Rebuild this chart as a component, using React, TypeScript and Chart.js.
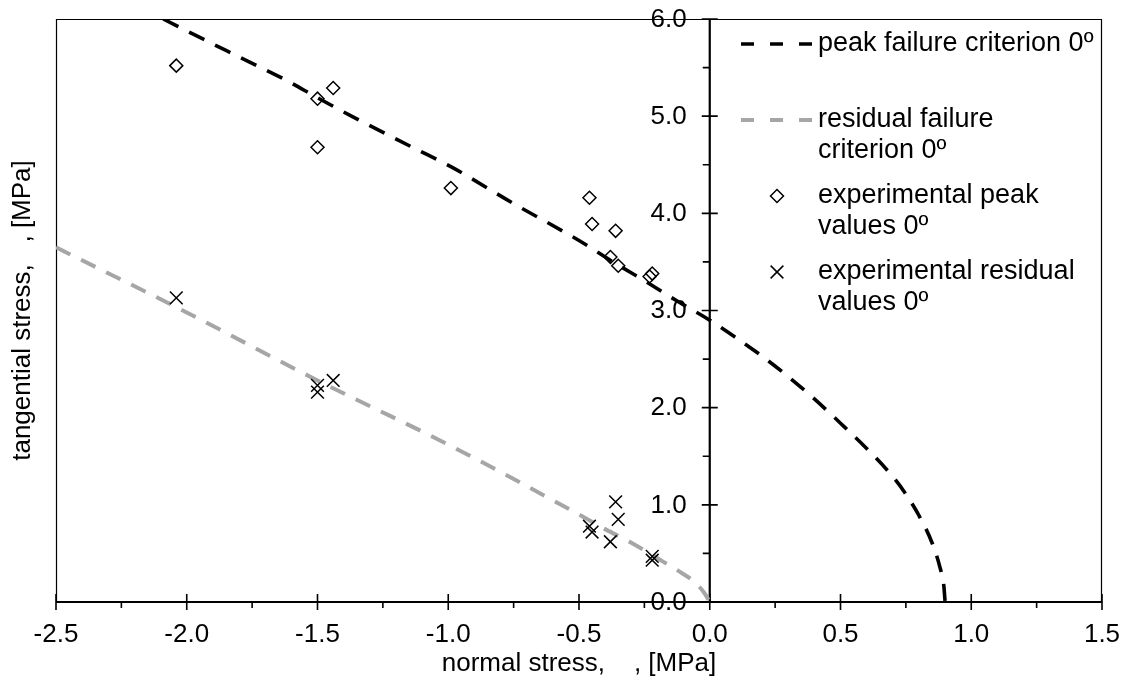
import React, { useEffect, useRef } from 'react';
import { Chart, registerables } from 'chart.js';

Chart.register(...registerables);

const FONT = '"Liberation Sans", Arial, Helvetica, sans-serif';

// peak failure criterion 0º
const peakSigma = [-2.09, -1.95, -1.8, -1.62, -1.5, -1.37, -1.13, -0.99, -0.75, -0.5, -0.37, -0.24, -0.12, 0.0, 0.1, 0.2, 0.3, 0.4, 0.5, 0.6, 0.7, 0.75, 0.8, 0.85, 0.88, 0.895, 0.9];
const peakTau = [6.0, 5.81, 5.61, 5.37, 5.19, 5.0, 4.67, 4.48, 4.1, 3.72, 3.5, 3.29, 3.09, 2.9, 2.72, 2.53, 2.32, 2.09, 1.84, 1.58, 1.29, 1.11, 0.89, 0.61, 0.36, 0.17, 0.0];

// residual failure criterion 0º
const resSigma = [-2.5, -2.0, -1.5, -1.0, -0.5, -0.4, -0.3, -0.2, -0.12, -0.06, -0.02, 0.0];
const resTau = [3.65, 2.98, 2.28, 1.62, 0.9, 0.75, 0.61, 0.45, 0.32, 0.21, 0.09, 0.0];

// experimental peak values 0º
const expPeakSigma = [-2.04, -1.5, -1.44, -1.5, -0.99, -0.46, -0.45, -0.36, -0.38, -0.35, -0.22, -0.23];
const expPeakTau = [5.52, 5.18, 5.29, 4.68, 4.26, 4.16, 3.89, 3.82, 3.55, 3.46, 3.38, 3.35];

// experimental residual values 0º
const expResSigma = [-2.04, -1.5, -1.5, -1.44, -0.46, -0.45, -0.36, -0.35, -0.38, -0.22, -0.22];
const expResTau = [3.13, 2.23, 2.16, 2.28, 0.78, 0.72, 1.03, 0.85, 0.62, 0.47, 0.43];

const xMin = -2.5, xMax = 1.5, xStep = 0.5;
const yMin = 0, yMax = 6, yStep = 1;

const legendLabels = [
  ['peak failure criterion 0º'],
  ['residual failure', 'criterion 0º'],
  ['experimental peak', 'values 0º'],
  ['experimental residual', 'values 0º'],
];
const xTitle = 'normal stress,    , [MPa]';
const yTitle = 'tangential stress,   , [MPa]';

const toXY = (xs: number[], ys: number[]) => xs.map((x, i) => ({ x, y: ys[i] }));

const framePlugin = {
  id: 'frame',
  beforeDatasetsDraw(chart: any) {
    const { ctx, chartArea: a, scales } = chart;
    const xs = scales.x, ys = scales.y;
    const x0 = xs.getPixelForValue(0);
    const y0 = ys.getPixelForValue(0);
    ctx.save();
    ctx.strokeStyle = '#000';
    // outer box
    ctx.lineWidth = 1.2;
    ctx.beginPath();
    ctx.moveTo(a.left + 0.5, a.bottom);
    ctx.lineTo(a.left + 0.5, a.top + 0.5);
    ctx.lineTo(a.right - 0.5, a.top + 0.5);
    ctx.lineTo(a.right - 0.5, a.bottom);
    ctx.stroke();
    // axes
    ctx.lineWidth = 2.2;
    ctx.beginPath();
    ctx.moveTo(a.left, y0);
    ctx.lineTo(a.right, y0);
    ctx.moveTo(x0, a.top);
    ctx.lineTo(x0, a.bottom);
    ctx.stroke();
    // ticks
    ctx.lineWidth = 1.6;
    const xt = xs.ticks.map((t: any) => t.value);
    ctx.beginPath();
    xt.forEach((v: number, i: number) => {
      const p = xs.getPixelForValue(v);
      ctx.moveTo(p, y0 - 8);
      ctx.lineTo(p, y0 + 8);
      if (i < xt.length - 1) {
        const m = xs.getPixelForValue((v + xt[i + 1]) / 2);
        ctx.moveTo(m, y0);
        ctx.lineTo(m, y0 + 6);
      }
    });
    const yt = ys.ticks.map((t: any) => t.value);
    yt.forEach((v: number, i: number) => {
      const p = ys.getPixelForValue(v);
      ctx.moveTo(x0 - 8, p);
      ctx.lineTo(x0 + 8, p);
      if (i < yt.length - 1) {
        const m = ys.getPixelForValue((v + yt[i + 1]) / 2);
        ctx.moveTo(x0 - 7, m);
        ctx.lineTo(x0, m);
      }
    });
    ctx.stroke();
    // tick labels
    ctx.fillStyle = '#000';
    ctx.font = `26px ${FONT}`;
    ctx.textAlign = 'right';
    ctx.textBaseline = 'middle';
    ys.ticks.forEach((t: any) => {
      ctx.fillText(Number(t.value).toFixed(1), x0 - 23, ys.getPixelForValue(t.value) + 0.5);
    });
    ctx.textAlign = 'center';
    xs.ticks.forEach((t: any) => {
      ctx.fillText(Number(t.value).toFixed(1), xs.getPixelForValue(t.value), y0 + 33);
    });
    ctx.restore();
  },
  afterDraw(chart: any) {
    const { ctx, chartArea: a } = chart;
    const ds = chart.data.datasets;
    ctx.save();
    ctx.fillStyle = '#000';
    // axis titles
    ctx.font = `26px ${FONT}`;
    ctx.textAlign = 'center';
    ctx.textBaseline = 'middle';
    ctx.fillText(xTitle, (a.left + a.right) / 2, 664);
    ctx.save();
    ctx.translate(23, (a.top + a.bottom) / 2);
    ctx.rotate(-Math.PI / 2);
    ctx.fillText(yTitle, 0, 0);
    ctx.restore();

    // legend
    const lx0 = 741, lx1 = 812, tx = 818, mx = 777;
    const rows = [44, 120, 196, 272];
    const lh = 31;
    ctx.font = `27px ${FONT}`;
    ctx.textAlign = 'left';
    ctx.textBaseline = 'middle';
    [0, 1].forEach((i) => {
      const d = ds[i];
      ctx.save();
      ctx.strokeStyle = d.borderColor;
      ctx.lineWidth = d.borderWidth;
      ctx.setLineDash([13, 16]);
      ctx.beginPath();
      ctx.moveTo(lx0, rows[i]);
      ctx.lineTo(lx1, rows[i]);
      ctx.stroke();
      ctx.restore();
    });
    ctx.save();
    ctx.strokeStyle = '#000';
    ctx.lineWidth = ds[2].borderWidth;
    const r = ds[2].pointRadius;
    ctx.beginPath();
    ctx.moveTo(mx, rows[2] - r);
    ctx.lineTo(mx + r, rows[2]);
    ctx.lineTo(mx, rows[2] + r);
    ctx.lineTo(mx - r, rows[2]);
    ctx.closePath();
    ctx.stroke();
    const c = ds[3].pointRadius * Math.SQRT1_2;
    ctx.lineWidth = ds[3].borderWidth;
    ctx.beginPath();
    ctx.moveTo(mx - c, rows[3] - c);
    ctx.lineTo(mx + c, rows[3] + c);
    ctx.moveTo(mx - c, rows[3] + c);
    ctx.lineTo(mx + c, rows[3] - c);
    ctx.stroke();
    ctx.restore();
    legendLabels.forEach((lines, i) => {
      lines.forEach((s, j) => ctx.fillText(s, tx, rows[i] + j * lh));
    });
    ctx.restore();
  },
};

export default function App() {
  const ref = useRef<HTMLCanvasElement | null>(null);
  useEffect(() => {
    if (!ref.current) return;
    Chart.defaults.font.family = FONT;
    const chart = new Chart(ref.current, {
      type: 'scatter',
      data: {
        datasets: [
          {
            label: 'peak failure criterion 0º',
            data: toXY(peakSigma, peakTau),
            showLine: true,
            borderColor: '#000000',
            borderWidth: 3.6,
            borderDash: [17, 12],
            pointRadius: 0,
            fill: false,
            cubicInterpolationMode: 'monotone',
            order: 2,
          } as any,
          {
            label: 'residual failure criterion 0º',
            data: toXY(resSigma, resTau),
            showLine: true,
            borderColor: '#a6a6a6',
            borderWidth: 4,
            borderDash: [16, 12],
            pointRadius: 0,
            fill: false,
            cubicInterpolationMode: 'monotone',
            order: 3,
          } as any,
          {
            label: 'experimental peak values 0º',
            data: toXY(expPeakSigma, expPeakTau),
            showLine: false,
            pointStyle: 'rectRot',
            pointRadius: 6.5,
            borderWidth: 1.5,
            borderColor: '#000000',
            backgroundColor: 'rgba(0,0,0,0)',
            order: 1,
          } as any,
          {
            label: 'experimental residual values 0º',
            data: toXY(expResSigma, expResTau),
            showLine: false,
            pointStyle: 'crossRot',
            pointRadius: 9,
            borderWidth: 1.5,
            borderColor: '#000000',
            backgroundColor: 'rgba(0,0,0,0)',
            order: 0,
          } as any,
        ],
      },
      options: {
        animation: false,
        responsive: true,
        maintainAspectRatio: false,
        devicePixelRatio: 1,
        events: [],
        layout: { padding: { left: 56, top: 19, right: 26, bottom: 82 } },
        plugins: {
          legend: { display: false },
          tooltip: { enabled: false },
        },
        scales: {
          x: {
            type: 'linear',
            position: { y: 0 } as any,
            min: xMin,
            max: xMax,
            grid: { display: false, drawTicks: false },
            border: { display: false },
            ticks: { stepSize: xStep, autoSkip: false, display: false },
          },
          y: {
            type: 'linear',
            position: { x: 0 } as any,
            min: yMin,
            max: yMax,
            grid: { display: false, drawTicks: false },
            border: { display: false },
            ticks: { stepSize: yStep, display: false },
          },
        },
      },
      plugins: [framePlugin],
    });
    return () => chart.destroy();
  }, []);
  return (
    <div style={{ position: 'fixed', left: 0, top: 0, width: 1128, height: 684, background: '#fff' }}>
      <canvas ref={ref} />
    </div>
  );
}
